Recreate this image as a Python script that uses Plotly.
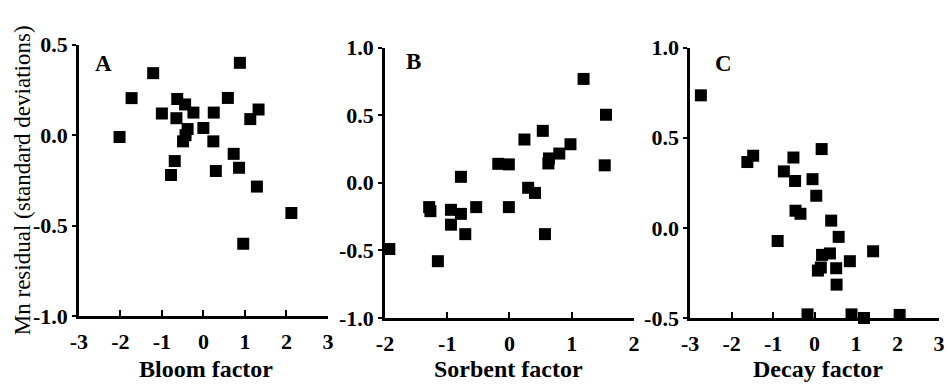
import plotly.graph_objects as go

# ---- data ----
bloom_x = [-2.02, -1.73, -1.21, -1.0, -0.63, -0.44, -0.24, -0.65, -0.38, -0.43, -0.49, 0.0, 0.25, 0.24,
           0.59, 0.88, 1.33, 1.13, 0.73, 0.86, 0.30, -0.69, -0.78, 1.29, 2.12, 0.96]
bloom_y = [-0.01, 0.205, 0.343, 0.12, 0.20, 0.17, 0.125, 0.094, 0.034, 0.0, -0.034, 0.04, 0.125, -0.034,
           0.206, 0.40, 0.142, 0.089, -0.103, -0.18, -0.198, -0.143, -0.22, -0.284, -0.43, -0.60]

sorbent_x = [1.19, 1.55, 1.53, 0.535, 0.24, 0.98, 0.80, 0.635, 0.625, -0.18, -0.01, -0.78, 0.30, 0.41,
             -1.29, -1.27, -0.94, -0.78, -0.535, -0.01, -0.94, -0.71, 0.57, -1.93, -1.15]
sorbent_y = [0.768, 0.503, 0.129, 0.384, 0.32, 0.285, 0.216, 0.18, 0.143, 0.14, 0.136, 0.044, -0.037, -0.075,
             -0.18, -0.21, -0.20, -0.23, -0.18, -0.18, -0.31, -0.38, -0.38, -0.49, -0.58]

decay_x = [-2.74, -1.48, -1.62, -0.51, -0.74, -0.47, 0.17, -0.05, 0.04, -0.46, -0.34, -0.89, 0.40, 0.58,
           0.18, 0.37, 1.41, 0.85, 0.15, 0.08, 0.52, 0.53, -0.17, 0.89, 1.19, 2.05]
decay_y = [0.735, 0.40, 0.365, 0.39, 0.313, 0.26, 0.437, 0.27, 0.178, 0.095, 0.078, -0.073, 0.04, -0.05,
           -0.15, -0.142, -0.13, -0.185, -0.22, -0.237, -0.224, -0.315, -0.48, -0.48, -0.50, -0.483]

x_ticks_a = [-3, -2, -1, 0, 1, 2, 3]
x_ticks_b = [-2, -1, 0, 1, 2]
x_ticks_c = [-3, -2, -1, 0, 1, 2, 3]
y_ticks_a = [-1.0, -0.5, 0.0, 0.5]
y_ticks_b = [-1.0, -0.5, 0.0, 0.5, 1.0]
y_ticks_c = [-0.5, 0.0, 0.5, 1.0]

x_titles = ["Bloom factor", "Sorbent factor", "Decay factor"]
panel_letters = ["A", "B", "C"]
y_title = "Mn residual (standard deviations)"

W, H = 951, 389
FONT = "Liberation Serif"
TICK_SIZE = 22

def fx(v):
    return ["<b>%s</b>" % t for t in v]

def fy(v):
    return ["<b>%.1f</b>" % t for t in v]

fig = go.Figure()

panels = [
    (bloom_x, bloom_y, x_ticks_a, y_ticks_a, (71, 324), (35, 325)),
    (sorbent_x, sorbent_y, x_ticks_b, y_ticks_b, (382, 635), (38, 327)),
    (decay_x, decay_y, x_ticks_c, y_ticks_c, (692, 945), (38, 327)),
]

layout = {}
for i, (xs, ys, xt, yt, (x0, x1), (ytop, ybot)) in enumerate(panels):
    n = "" if i == 0 else str(i + 1)
    fig.add_trace(go.Scatter(
        x=xs, y=ys, mode="markers",
        marker=dict(symbol="square", size=12, color="black"),
        xaxis="x" + n, yaxis="y" + n, cliponaxis=False, showlegend=False,
        hoverinfo="x+y"))
    axis_common = dict(showgrid=False, zeroline=False, showline=True, linecolor="black",
                       linewidth=2.5, tickcolor="black", tickwidth=2,
                       tickfont=dict(family=FONT, size=TICK_SIZE, color="black"))
    layout["xaxis" + n] = dict(domain=[x0 / W, x1 / W], range=[xt[0], xt[-1]],
                               tickvals=xt, ticktext=fx(xt), ticks="inside", ticklen=6,
                               ticklabelstandoff=4,
                               anchor="y" + n, **axis_common)
    layout["yaxis" + n] = dict(domain=[(H - ybot) / H, (H - ytop) / H], range=[yt[0], yt[-1]],
                               tickvals=yt, ticktext=fy(yt), ticks="outside", ticklen=4,
                               ticklabelstandoff=0,
                               anchor="x" + n, **axis_common)

fig.update_layout(**layout)

annotations = []
# x axis titles
for cx, t in zip([200, 508, 822], x_titles):
    annotations.append(dict(text="<b>%s</b>" % t, x=cx / W, y=(H - 381) / H, xref="paper", yref="paper",
                            showarrow=False, xanchor="center", yanchor="middle",
                            font=dict(family=FONT, size=24, color="black")))
# panel letters
for cx, cy, t in zip([96, 411, 726], [55, 53, 55], panel_letters):
    annotations.append(dict(text="<b>%s</b>" % t, x=cx / W, y=(H - cy) / H, xref="paper", yref="paper",
                            showarrow=False, xanchor="center", yanchor="middle",
                            font=dict(family=FONT, size=23, color="black")))
# y title
annotations.append(dict(text=y_title, x=14 / W, y=(H - 180) / H, xref="paper", yref="paper",
                        showarrow=False, textangle=-90, xanchor="center", yanchor="middle",
                        font=dict(family=FONT, size=23, color="black")))

fig.update_layout(width=W, height=H, margin=dict(l=0, r=0, t=0, b=0),
                  paper_bgcolor="white", plot_bgcolor="white", annotations=annotations)

fig.write_html("out.html")
